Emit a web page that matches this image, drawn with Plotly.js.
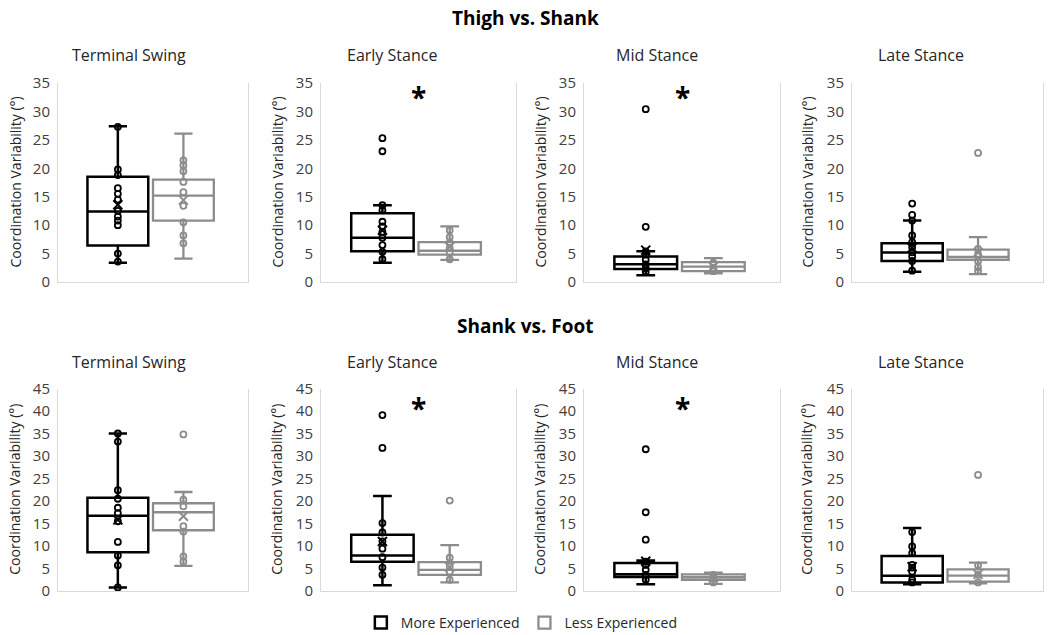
<!DOCTYPE html>
<html><head><meta charset="utf-8">
<script src="https://cdn.plot.ly/plotly-3.0.1.min.js"></script>
<style>html,body{margin:0;padding:0;background:#fff}</style>
</head><body><div id="chart" style="width:1050px;height:635px"></div>
<script>
// Panels: 0-3 Thigh vs. Shank, 4-7 Shank vs. Foot
const groupTitles = ["Thigh vs. Shank", "Shank vs. Foot"];
const panelTitles = ["Terminal Swing", "Early Stance", "Mid Stance", "Late Stance",
                     "Terminal Swing", "Early Stance", "Mid Stance", "Late Stance"];
const yMax = [35, 35, 35, 35, 45, 45, 45, 45];
const significant = [false, true, true, false, false, true, true, false];
const seriesNames = ["More Experienced", "Less Experienced"];
const yAxisTitle = "Coordination Variability (°)";

// More Experienced box statistics
const moreLower  = [3.4, 3.4, 1.2, 1.8, 0.8, 1.3, 1.5, 1.5];
const moreQ1     = [6.4, 5.4, 2.3, 3.7, 8.6, 6.5, 3.1, 1.9];
const moreMedian = [12.4, 7.8, 3.1, 5.2, 16.7, 7.9, 3.7, 3.4];
const moreQ3     = [18.5, 12.1, 4.5, 6.8, 20.7, 12.5, 6.2, 7.8];
const moreUpper  = [27.4, 13.5, 5.4, 10.8, 35.0, 21.1, 6.8, 14.0];
const moreMean   = [13.6, 9.1, 5.6, 6.0, 15.8, 11.0, 6.6, 5.4];
const morePoints = [
  [27.3, 19.8, 18.8, 16.5, 15.5, 14.5, 12.5, 11.5, 10.8, 10.0, 5.0, 3.6],
  [25.3, 23.0, 13.5, 12.6, 10.6, 9.8, 8.8, 7.8, 6.5, 5.3, 4.0],
  [30.4, 9.7, 5.4, 4.8, 3.9, 3.1, 2.4, 1.8],
  [13.8, 11.8, 10.8, 8.2, 7.0, 6.1, 5.2, 4.5, 3.7, 2.0],
  [35.0, 33.2, 22.4, 20.5, 18.5, 17.3, 15.5, 10.9, 7.9, 5.7, 0.8],
  [39.1, 31.8, 15.1, 13.0, 11.0, 9.4, 7.5, 5.2, 3.6],
  [31.5, 17.5, 11.4, 6.5, 5.8, 4.7, 3.6, 2.5],
  [13.1, 9.9, 8.4, 5.8, 5.2, 4.3, 2.5, 1.9]
];

// Less Experienced box statistics
const lessLower  = [4.1, 3.9, 1.5, 1.4, 5.6, 1.9, 1.6, 1.7];
const lessQ1     = [10.8, 4.8, 1.9, 3.9, 13.5, 3.6, 2.5, 2.1];
const lessMedian = [15.2, 5.5, 2.7, 4.4, 17.5, 4.7, 3.1, 3.4];
const lessQ3     = [18.0, 7.0, 3.5, 5.7, 19.5, 6.4, 3.7, 4.8];
const lessUpper  = [26.1, 9.8, 4.2, 7.9, 22.0, 10.2, 4.1, 6.3];
const lessMean   = [14.4, 6.2, 2.7, 5.2, 16.6, 5.3, 3.0, 3.7];
const lessPoints = [
  [21.4, 20.5, 19.5, 17.6, 15.8, 13.4, 10.5, 8.2, 6.8],
  [9.1, 7.9, 6.9, 6.0, 5.1, 4.0],
  [3.4, 2.5, 1.9],
  [22.7, 5.8, 4.9, 3.7, 2.6, 1.9],
  [34.8, 20.3, 18.8, 14.4, 13.2, 7.7, 6.5],
  [20.1, 7.4, 5.4, 4.3, 2.5],
  [3.6, 2.8, 1.9],
  [25.8, 5.7, 3.6, 1.9]
];

// ---- layout geometry (pixels in a 1050x635 page) ----
const W = 1050, H = 635;
const colPx = [[58, 248], [321, 516], [584, 780], [852, 1043]];
const rowPx = [[83, 282], [388.5, 591]];
const titleCx = [129, 392, 657, 921];
const yTitleX = [15, 277, 540, 807];
const rowTitleY = [55, 362];
const groupTitleY = [18, 326];

const BLACK = "#000000", GRAY = "#8c8c8c";
const FONT = "Open Sans, Noto Sans, sans-serif";
const posMore = -0.37, posLess = 0.32, boxW = 0.64;

const traces = [];
const layout = {
  width: W, height: H, margin: {l: 0, r: 0, t: 0, b: 0, autoexpand: false},
  paper_bgcolor: "#fff", plot_bgcolor: "#fff",
  font: {family: FONT, color: "#404040"},
  showlegend: true,
  legend: {orientation: "h", x: 0.497, xanchor: "center", y: 1 - 623 / H, yanchor: "middle",
           font: {size: 14, color: "#262626", family: FONT}, bgcolor: "rgba(0,0,0,0)", itemwidth: 30},
  annotations: [], shapes: []
};

function px2x(p) { return p / W; }
function px2y(p) { return 1 - p / H; }

for (let i = 0; i < 8; i++) {
  const row = Math.floor(i / 4), col = i % 4;
  const ax = i === 0 ? "" : String(i + 1);
  const xref = "x" + ax, yref = "y" + ax;
  layout["xaxis" + ax] = {
    domain: [px2x(colPx[col][0]), px2x(colPx[col][1])], range: [-1, 1], anchor: yref,
    showticklabels: false, showgrid: false, zeroline: false, ticks: "",
    showline: true, linecolor: "#d9d9d9", linewidth: 1, fixedrange: true
  };
  layout["yaxis" + ax] = {
    domain: [px2y(rowPx[row][1]), px2y(rowPx[row][0])], range: [0, yMax[i]], anchor: xref,
    dtick: 5, tick0: 0, showgrid: false, zeroline: false, ticks: "",
    showline: true, mirror: true, linecolor: "#d9d9d9", linewidth: 1,
    tickfont: {size: 15, color: "#404040", family: FONT}, ticklabelstandoff: 4, fixedrange: true
  };

  const groups = [
    {name: seriesNames[0], color: BLACK, pos: posMore, lw: 2.5,
     lo: moreLower, q1: moreQ1, md: moreMedian, q3: moreQ3, up: moreUpper, mean: moreMean, pts: morePoints},
    {name: seriesNames[1], color: GRAY, pos: posLess, lw: 2.3,
     lo: lessLower, q1: lessQ1, md: lessMedian, q3: lessQ3, up: lessUpper, mean: lessMean, pts: lessPoints}
  ];
  groups.forEach((g, gi) => {
    traces.push({
      type: "box", xaxis: xref, yaxis: yref, name: g.name,
      x: [g.pos], q1: [g.q1[i]], median: [g.md[i]], q3: [g.q3[i]],
      lowerfence: [g.lo[i]], upperfence: [g.up[i]],
      width: boxW, whiskerwidth: 0.3, boxpoints: false,
      fillcolor: "rgba(255,255,255,1)", line: {color: g.color, width: g.lw},
      showlegend: i === 0, legendgroup: g.name, hoverinfo: "skip"
    });
    traces.push({
      type: "scatter", mode: "markers", xaxis: xref, yaxis: yref,
      x: g.pts[i].map(() => g.pos), y: g.pts[i],
      marker: {symbol: "circle-open", size: 6, color: g.color, line: {width: 1.8, color: g.color}},
      showlegend: false, hoverinfo: "skip", cliponaxis: false
    });
    traces.push({
      type: "scatter", mode: "markers", xaxis: xref, yaxis: yref,
      x: [g.pos], y: [g.mean[i]],
      marker: {symbol: "x-thin", size: 9, color: g.color, line: {width: 2, color: g.color}},
      showlegend: false, hoverinfo: "skip"
    });
  });

  layout.annotations.push({
    text: panelTitles[i], xref: "paper", yref: "paper",
    x: px2x(titleCx[col]), y: px2y(rowTitleY[row]), xanchor: "center", yanchor: "middle",
    showarrow: false, font: {size: 16, color: "#262626", family: FONT}
  });
  layout.annotations.push({
    text: yAxisTitle, xref: "paper", yref: "paper", textangle: -90,
    x: px2x(yTitleX[col]), y: px2y((rowPx[row][0] + rowPx[row][1]) / 2),
    xanchor: "center", yanchor: "middle",
    showarrow: false, font: {size: 14, color: "#262626", family: FONT}
  });
  if (significant[i]) {
    layout.annotations.push({
      text: "<b>*</b>", xref: xref, yref: yref, x: 0, y: yMax[i] * (row === 0 ? 0.93 : 0.905),
      xanchor: "center", yanchor: "middle", showarrow: false,
      font: {size: 28, color: "#000", family: FONT}
    });
  }
}
groupTitles.forEach((t, r) => {
  layout.annotations.push({
    text: "<b>" + t + "</b>", xref: "paper", yref: "paper",
    x: 0.5, y: px2y(groupTitleY[r]), xanchor: "center", yanchor: "middle",
    showarrow: false, font: {size: 19, color: "#000", family: FONT}
  });
});

Plotly.newPlot("chart", traces, layout, {staticPlot: true, displayModeBar: false});
</script></body></html>
